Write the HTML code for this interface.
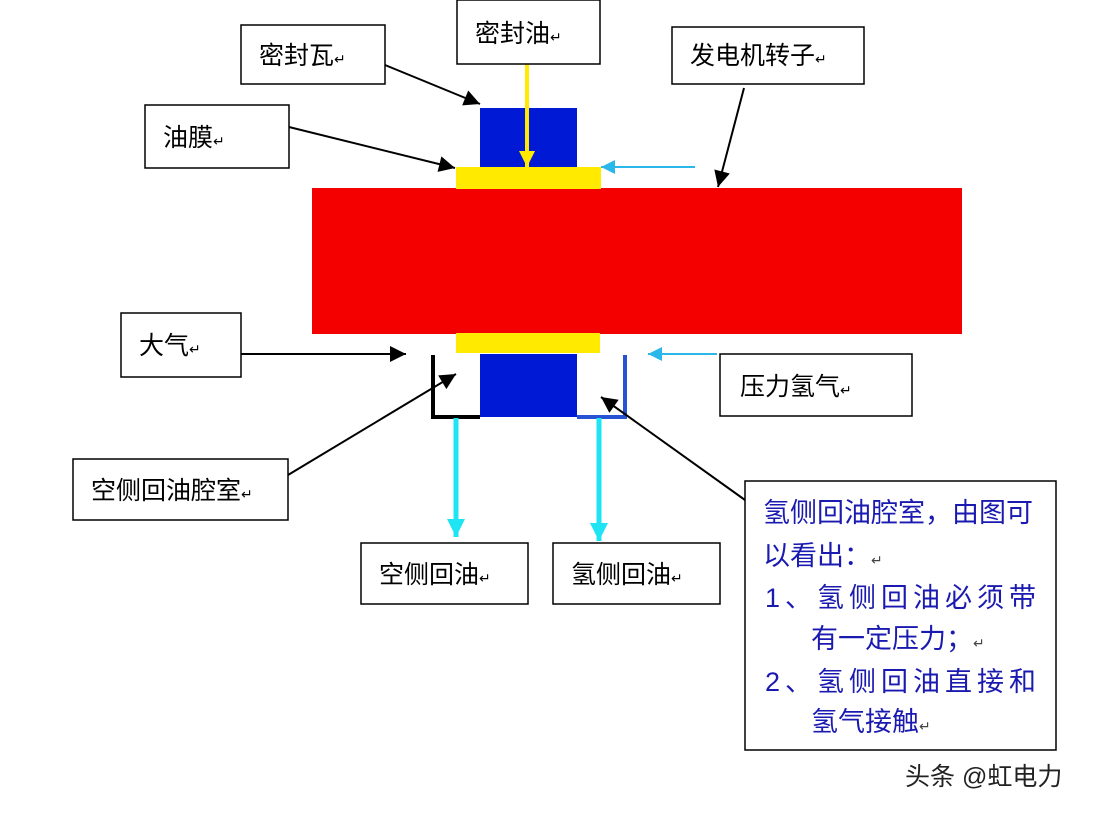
<!DOCTYPE html>
<html><head><meta charset="utf-8"><style>
body{margin:0;background:#fff;}
svg text{font-family:"Liberation Sans","Noto Sans CJK SC",sans-serif;}
</style></head><body>
<svg width="1104" height="814" viewBox="0 0 1104 814" xmlns="http://www.w3.org/2000/svg">
<defs>
<marker id="abk" viewBox="0 0 10 10" markerWidth="20" markerHeight="16" refX="10" refY="5" orient="auto" markerUnits="userSpaceOnUse"><path d="M0,0 L10,5 L0,10 z" fill="#000"/></marker>
<marker id="ay" viewBox="0 0 10 10" markerWidth="18" markerHeight="16" refX="10" refY="5" orient="auto" markerUnits="userSpaceOnUse"><path d="M0,0 L10,5 L0,10 z" fill="#ffea00"/></marker>
<marker id="ac" viewBox="0 0 10 10" markerWidth="18" markerHeight="14" refX="10" refY="5" orient="auto" markerUnits="userSpaceOnUse"><path d="M0,0 L10,5 L0,10 z" fill="#2ab8ea"/></marker>
<marker id="acy" viewBox="0 0 10 10" markerWidth="20" markerHeight="18" refX="10" refY="5" orient="auto" markerUnits="userSpaceOnUse"><path d="M0,0 L10,5 L0,10 z" fill="#1ee4f4"/></marker>
</defs>
<rect x="312" y="188" width="650" height="146" fill="#f50000"/>
<rect x="480" y="108" width="97" height="59" fill="#0019d4"/>
<rect x="456" y="167" width="145" height="22" fill="#ffea00"/>
<rect x="456" y="333" width="144" height="20" fill="#ffea00"/>
<rect x="480" y="354" width="97" height="63" fill="#0019d4"/>
<polyline points="433,355 433,417 480,417" fill="none" stroke="#000" stroke-width="4"/>
<polyline points="625,355 625,417 577,417" fill="none" stroke="#2752d4" stroke-width="4"/>
<line x1="456" y1="418" x2="456" y2="537" stroke="#1ee4f4" stroke-width="5" marker-end="url(#acy)"/>
<line x1="599" y1="418" x2="599" y2="541" stroke="#1ee4f4" stroke-width="5" marker-end="url(#acy)"/>
<line x1="527" y1="40" x2="527" y2="167" stroke="#ffea00" stroke-width="4" marker-end="url(#ay)"/>
<line x1="695" y1="167" x2="601" y2="167" stroke="#2ab8ea" stroke-width="2" marker-end="url(#ac)"/>
<line x1="717" y1="354" x2="648" y2="354" stroke="#2ab8ea" stroke-width="2" marker-end="url(#ac)"/>
<g stroke="#000" stroke-width="2" marker-end="url(#abk)">
<line x1="385" y1="65" x2="480" y2="104"/>
<line x1="289" y1="127" x2="455" y2="168"/>
<line x1="744" y1="88" x2="718" y2="187"/>
<line x1="241" y1="354" x2="406" y2="354"/>
<line x1="288" y1="475" x2="456" y2="374"/>
<line x1="745" y1="500" x2="601" y2="397"/>
</g>
<g fill="#fff" stroke="#000" stroke-width="1.5">
<rect x="241" y="25" width="144" height="59"/>
<rect x="457" y="0" width="143" height="64"/>
<rect x="672" y="27" width="192" height="57"/>
<rect x="145" y="105" width="144" height="63"/>
<rect x="121" y="313" width="120" height="64"/>
<rect x="720" y="354" width="192" height="62"/>
<rect x="73" y="459" width="215" height="61"/>
<rect x="361" y="543" width="167" height="61"/>
<rect x="553" y="543" width="167" height="61"/>
<rect x="745" y="481" width="311" height="269"/>
</g>
<g font-size="25" fill="#000">
<text x="259" y="64">密封瓦<tspan font-size="14">↵</tspan></text>
<text x="475" y="42">密封油<tspan font-size="14">↵</tspan></text>
<text x="690" y="64">发电机转子<tspan font-size="14">↵</tspan></text>
<text x="163" y="146">油膜<tspan font-size="14">↵</tspan></text>
<text x="139" y="354">大气<tspan font-size="14">↵</tspan></text>
<text x="740" y="395">压力氢气<tspan font-size="14">↵</tspan></text>
<text x="91" y="499">空侧回油腔室<tspan font-size="14">↵</tspan></text>
<text x="379" y="583">空侧回油<tspan font-size="14">↵</tspan></text>
<text x="571" y="583">氢侧回油<tspan font-size="14">↵</tspan></text>
</g>
<g font-size="27" fill="#1a1ab0">
<text x="763" y="522">氢侧回油腔室，由图可</text>
<text x="763" y="565">以看出：<tspan font-size="14" fill="#444">↵</tspan></text>
<text x="765" y="607" letter-spacing="5">1、氢侧回油必须带</text>
<text x="811" y="648">有一定压力；<tspan font-size="14" fill="#444">↵</tspan></text>
<text x="765" y="691" letter-spacing="5">2、氢侧回油直接和</text>
<text x="811" y="731">氢气接触<tspan font-size="14" fill="#444">↵</tspan></text>
</g>
<text x="905" y="785" font-size="25" fill="#222">头条 @虹电力</text>
</svg>
</body></html>
